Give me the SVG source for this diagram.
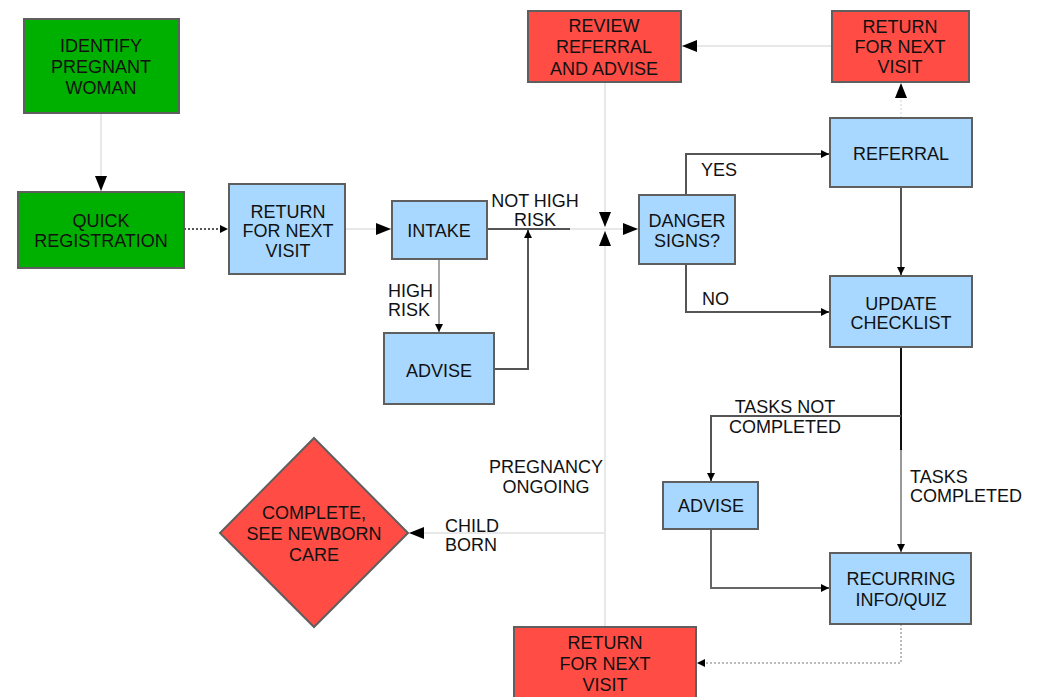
<svg xmlns="http://www.w3.org/2000/svg" width="1040" height="697" viewBox="0 0 1040 697">
<defs>
<style>
text{font-family:"Liberation Sans",Arial,sans-serif;font-size:18px;fill:#111;text-anchor:middle}
.l{text-anchor:start}
.box{stroke:#5f5f5f;stroke-width:2}
.g{fill:#00b000}
.r{fill:#ff4c44}
.b{fill:#a8d8ff}
.c{fill:none;stroke-width:2}
.lt{stroke:#e8e8e8}
.dk{stroke:#555}
.md{stroke:#a8a8a8}
.dot{stroke-dasharray:2 2}
</style>
<marker id="big" markerUnits="userSpaceOnUse" markerWidth="16" markerHeight="12" refX="15" refY="6" orient="auto"><path d="M0,0 L15,6 L0,12 z" fill="#000"/></marker>
<marker id="sm" markerUnits="userSpaceOnUse" markerWidth="9" markerHeight="8" refX="8" refY="4" orient="auto"><path d="M0,0 L8,4 L0,8 z" fill="#000"/></marker>
</defs>
<rect width="1040" height="697" fill="#fff"/>
<g id="connectors">
<path class="c lt" d="M101,113 V191" marker-end="url(#big)"/>
<path class="c dk dot" d="M184,229 H228" marker-end="url(#sm)"/>
<path class="c lt" d="M345,229 H391" marker-end="url(#big)"/>
<path class="c dk" d="M487,229 H570"/>
<path class="c lt" d="M570,229 H638" marker-end="url(#big)"/>
<path class="c lt" d="M605,82 V227" marker-end="url(#big)"/>
<path class="c lt" d="M605,627 V231" marker-end="url(#big)"/>
<path class="c lt" d="M605,533 H409" marker-end="url(#big)"/>
<path class="c md" d="M439,259 V332" marker-end="url(#sm)"/>
<path class="c dk" d="M494,369 H528 V230" marker-end="url(#sm)"/>
<path class="c dk" d="M686,195 V154 H829" marker-end="url(#sm)"/>
<path class="c dk" d="M686,264 V312 H829" marker-end="url(#sm)"/>
<path class="c dk" d="M901,187 V275" marker-end="url(#sm)"/>
<path class="c lt dot" d="M901,118 V83" marker-end="url(#big)"/>
<path class="c lt" d="M832,46 H682" marker-end="url(#big)"/>
<path class="c" stroke="#111" d="M901,347 V450"/>
<path class="c" stroke="#999" d="M901,450 V552" marker-end="url(#sm)"/>
<path class="c dk" stroke-width="1.5" d="M901,416 H711 V481" marker-end="url(#sm)"/>
<path class="c" stroke="#666" stroke-width="1.5" d="M711,529 V588 H829" marker-end="url(#sm)"/>
<path class="c dot" stroke="#bbb" d="M901,624 V663 H697" marker-end="url(#sm)"/>
<text class="l" x="388" y="297">HIGH</text>
<text class="l" x="388" y="316">RISK</text>
<text x="535" y="207">NOT HIGH</text>
<text x="535" y="226">RISK</text>
<text class="l" x="701" y="176">YES</text>
<text class="l" x="702" y="305">NO</text>
<text x="785" y="413">TASKS NOT</text>
<text x="785" y="433">COMPLETED</text>
<text class="l" x="910" y="483">TASKS</text>
<text class="l" x="910" y="502">COMPLETED</text>
<text x="546" y="473">PREGNANCY</text>
<text x="546" y="493">ONGOING</text>
<text class="l" x="445" y="532">CHILD</text>
<text class="l" x="445" y="551">BORN</text>
</g>
<g id="identify"><rect class="box g" x="24" y="19" width="155" height="94"/><text x="101" y="52">IDENTIFY</text><text x="101" y="73">PREGNANT</text><text x="101" y="94">WOMAN</text></g>
<g id="quickreg"><rect class="box g" x="18" y="192" width="166" height="76"/><text x="101" y="227">QUICK</text><text x="101" y="247">REGISTRATION</text></g>
<g id="return1"><rect class="box b" x="229" y="184" width="116" height="90"/><text x="288" y="218">RETURN</text><text x="288" y="237">FOR NEXT</text><text x="288" y="257">VISIT</text></g>
<g id="intake"><rect class="box b" x="392" y="201" width="95" height="58"/><text x="439" y="237">INTAKE</text></g>
<g id="advise1"><rect class="box b" x="384" y="333" width="110" height="71"/><text x="439" y="377">ADVISE</text></g>
<g id="review"><rect class="box r" x="528" y="11" width="153" height="71"/><text x="604" y="32">REVIEW</text><text x="604" y="53">REFERRAL</text><text x="604" y="75">AND ADVISE</text></g>
<g id="danger"><rect class="box b" x="639" y="195" width="96" height="69"/><text x="687" y="227">DANGER</text><text x="687" y="247">SIGNS?</text></g>
<g id="return2"><rect class="box r" x="832" y="11" width="137" height="71"/><text x="900" y="33">RETURN</text><text x="900" y="53">FOR NEXT</text><text x="900" y="73">VISIT</text></g>
<g id="referral"><rect class="box b" x="830" y="118" width="142" height="69"/><text x="901" y="160">REFERRAL</text></g>
<g id="update"><rect class="box b" x="830" y="276" width="142" height="71"/><text x="901" y="310">UPDATE</text><text x="901" y="329">CHECKLIST</text></g>
<g id="advise2"><rect class="box b" x="663" y="482" width="95" height="47"/><text x="711" y="512">ADVISE</text></g>
<g id="recurring"><rect class="box b" x="830" y="553" width="141" height="71"/><text x="901" y="585">RECURRING</text><text x="901" y="606">INFO/QUIZ</text></g>
<g id="return3"><rect class="box r" x="514" y="627" width="182" height="80"/><text x="605" y="649">RETURN</text><text x="605" y="670">FOR NEXT</text><text x="605" y="691">VISIT</text></g>
<g id="complete"><path class="box r" stroke-width="1.5" d="M314,438 L408,533 L314,627 L220,533 z"/><text x="314" y="519">COMPLETE,</text><text x="314" y="540">SEE NEWBORN</text><text x="314" y="561">CARE</text></g>
</svg>
